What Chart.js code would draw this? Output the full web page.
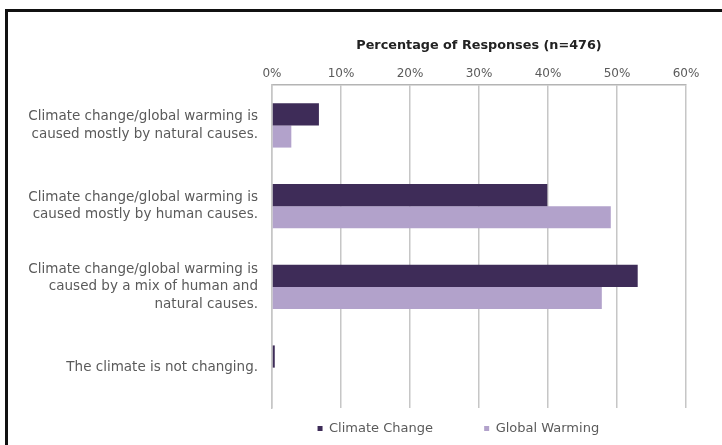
<!DOCTYPE html>
<html>
<head>
<meta charset="utf-8">
<script src="https://cdn.jsdelivr.net/npm/chart.js@4.4.1/dist/chart.umd.min.js"></script>
<style>
  html, body { margin: 0; padding: 0; background: #fff; }
  #wrap { position: relative; width: 722px; height: 445px; overflow: hidden; }
  #chart-canvas { position: absolute; left: 0; top: 0; }
  #frame {
    position: absolute; left: 5px; top: 9px; width: 730px; height: 450px;
    border-top: 3px solid #111; border-left: 3px solid #111;
    pointer-events: none;
  }
</style>
</head>
<body>
<div id="wrap">
  <canvas id="chart-canvas" width="722" height="445"></canvas>
  <div id="frame"></div>
</div>
<script>
// chart data
const categories = [
  ['Climate change/global warming is', 'caused mostly by natural causes.'],
  ['Climate change/global warming is', 'caused mostly by human causes.'],
  ['Climate change/global warming is', 'caused by a mix of human and', 'natural causes.'],
  ['The climate is not changing.'],
];
const climateChange = [6.8, 39.9, 53.0, 0.4];
const globalWarming = [2.8, 49.1, 47.8, 0];
const xTicks = [0, 10, 20, 30, 40, 50, 60];

const FONT = 'DejaVu Sans, Arial, sans-serif';
const TEXT = '#5a5a5a';

const ctx = document.getElementById('chart-canvas');

new Chart(ctx, {
  type: 'bar',
  data: {
    labels: categories,
    datasets: [
      {
        label: 'Climate Change',
        data: climateChange,
        backgroundColor: '#3e2c58',
        borderWidth: 0,
        categoryPercentage: 0.55,
        barPercentage: 1.0,
      },
      {
        label: 'Global Warming',
        data: globalWarming,
        backgroundColor: '#b2a2cb',
        borderWidth: 0,
        categoryPercentage: 0.55,
        barPercentage: 1.0,
      },
    ],
  },
  options: {
    indexAxis: 'y',
    responsive: false,
    animation: false,
    layout: { padding: { left: 0, right: 36, top: 30, bottom: 0 } },
    plugins: {
      tooltip: { enabled: false },
      legend: {
        position: 'bottom',
        fullSize: false,
        labels: {
          boxWidth: 5,
          boxHeight: 5,
          padding: 14,
          color: TEXT,
          font: { size: 13, family: FONT },
          generateLabels(chart) {
            const items = Chart.defaults.plugins.legend.labels.generateLabels(chart);
            // widen the gap between entries and nudge the legend left, like the original
            items[0].text = items[0].text + '         ';
            items[1].text = items[1].text + '          ';
            return items;
          },
        },
      },
    },
    scales: {
      x: {
        position: 'top',
        min: 0,
        max: 60,
        afterBuildTicks(scale) {
          scale.ticks = xTicks.map(v => ({ value: v }));
        },
        afterFit(scale) { scale.height = 55; },
        grid: { color: '#c6c6c6', lineWidth: 1.5, drawTicks: false },
        border: { display: true, color: '#b4b4b4', width: 1.5 },
        ticks: {
          color: TEXT,
          padding: 4,
          font: { size: 12, family: FONT },
          callback(value) { return value + '%'; },
        },
        title: {
          display: true,
          text: 'Percentage of Responses (n=476)',
          color: '#222',
          font: { size: 12.8, weight: 'bold', family: FONT },
          padding: { top: 8, bottom: 0 },
        },
      },
      y: {
        afterFit(scale) { scale.width = 272; },
        grid: { display: false },
        border: { display: true, color: '#c6c6c6', width: 1.5 },
        ticks: {
          color: TEXT,
          padding: 6,
          font: { size: 13.5, family: FONT, lineHeight: 1.3 },
        },
      },
    },
  },
});
</script>
</body>
</html>
